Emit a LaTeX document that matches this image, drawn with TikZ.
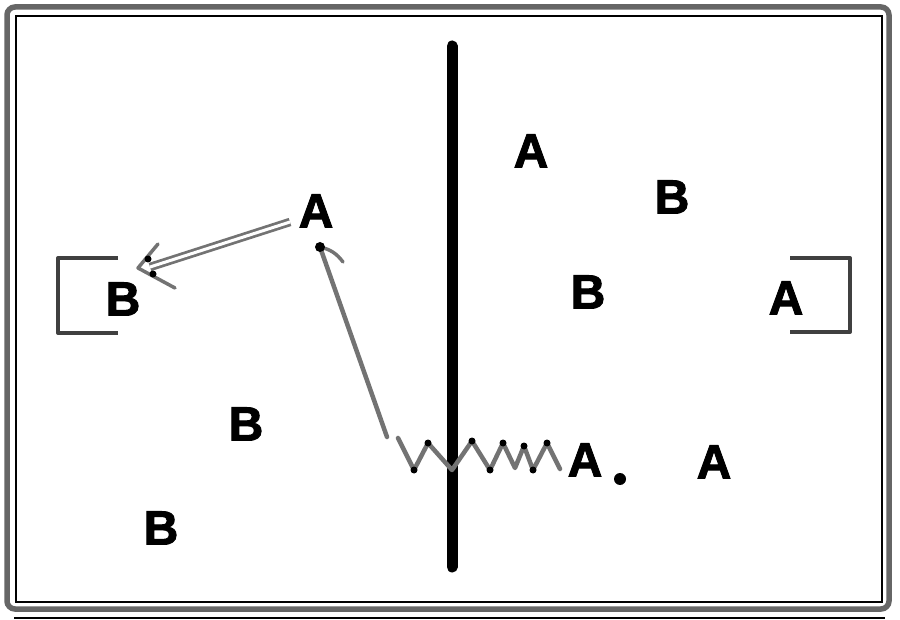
\documentclass[tikz,border=0pt]{standalone}
\usepackage{fontspec}
\setmainfont{Liberation Sans}
\newfontfamily\lblfont[FakeBold=2]{Liberation Sans Bold}
\begin{document}
\begin{tikzpicture}[x=1pt,y=-1pt,
  lbl/.style={font=\fontsize{48}{48}\lblfont, inner sep=0pt},
  gline/.style={draw=black!55, line width=4.5pt, line cap=round, line join=round},
  vdot/.style={circle, fill=black, inner sep=0pt, minimum size=7pt},
  bracket/.style={draw=black!75, line width=4pt, line join=round}
]
\useasboundingbox (0,0) rectangle (900,620);
% frame
\draw[draw=black!60, line width=5.5pt, rounded corners=8pt] (7,7) rectangle (889,609);
\draw[line width=1.6pt] (16,16) rectangle (882,602);
\coordinate (bl) at (14,618);
\coordinate (br) at (885,618);
\draw[line width=2.2pt] (bl) -- (br);
% membrane
\coordinate (mt) at (452,46);
\coordinate (mb) at (452,567);
\draw[line width=11pt, line cap=round] (mt) -- (mb);
% labels
\node[lbl] (a1) at (531,151) {A};
\node[lbl] (b1) at (672,197) {B};
\node[lbl] (a2) at (316,211) {A};
\node[lbl] (b2) at (123,299) {B};
\node[lbl] (b3) at (588,292) {B};
\node[lbl] (a3) at (786,298) {A};
\node[lbl] (b4) at (246,424) {B};
\node[lbl] (b5) at (161,528) {B};
\node[lbl] (a4) at (585,460) {A};
\node[lbl] (a5) at (714,462) {A};
\node[circle, fill=black, inner sep=0pt, minimum size=12pt] (dot) at (620,479) {};
% brackets
\draw[bracket] (118,258) -- (58,258) -- (58,333) -- (118,333);
\draw[bracket] (790,258) -- (850,258) -- (850,332) -- (790,332);
% double arrow from A to B
\coordinate (ds) at (290,222);
\coordinate (dt) at (150,267);
\coordinate (dtip) at (138,268);
\draw[draw=black!55, line width=8.5pt] (ds) -- (dt);
\draw[draw=white, line width=3pt] (ds) -- (dt);
\coordinate (db1) at (158,244);
\coordinate (db2) at (175,288);
\draw[gline, line width=3.5pt] (db1) -- (dtip) -- (db2);
\node[vdot] (dd1) at (148,259) {};
\node[vdot] (dd2) at (153,274) {};
% zigzag
\draw[gline] (398,438) -- (414,470) -- (428,443) -- (452,470) -- (472,441) -- (490,470) -- (503,443) -- (515,468) -- (524,446) -- (533,470) -- (547,443) -- (560,469);
\foreach \p in {(414,470),(428,443),(490,470),(472,441),(503,443),(524,446),(533,470),(547,443)}
  \node[vdot] at \p {};
% arrow to A
\coordinate (ls) at (387,437);
\coordinate (lt) at (320,247);
\coordinate (lb) at (343,262);
\draw[gline] (ls) -- (lt);
\draw[gline, line width=3.5pt] (lt) to[bend left=20] (lb);
\node[vdot, minimum size=10pt] (ltd) at (lt) {};
\end{tikzpicture}
\end{document}
